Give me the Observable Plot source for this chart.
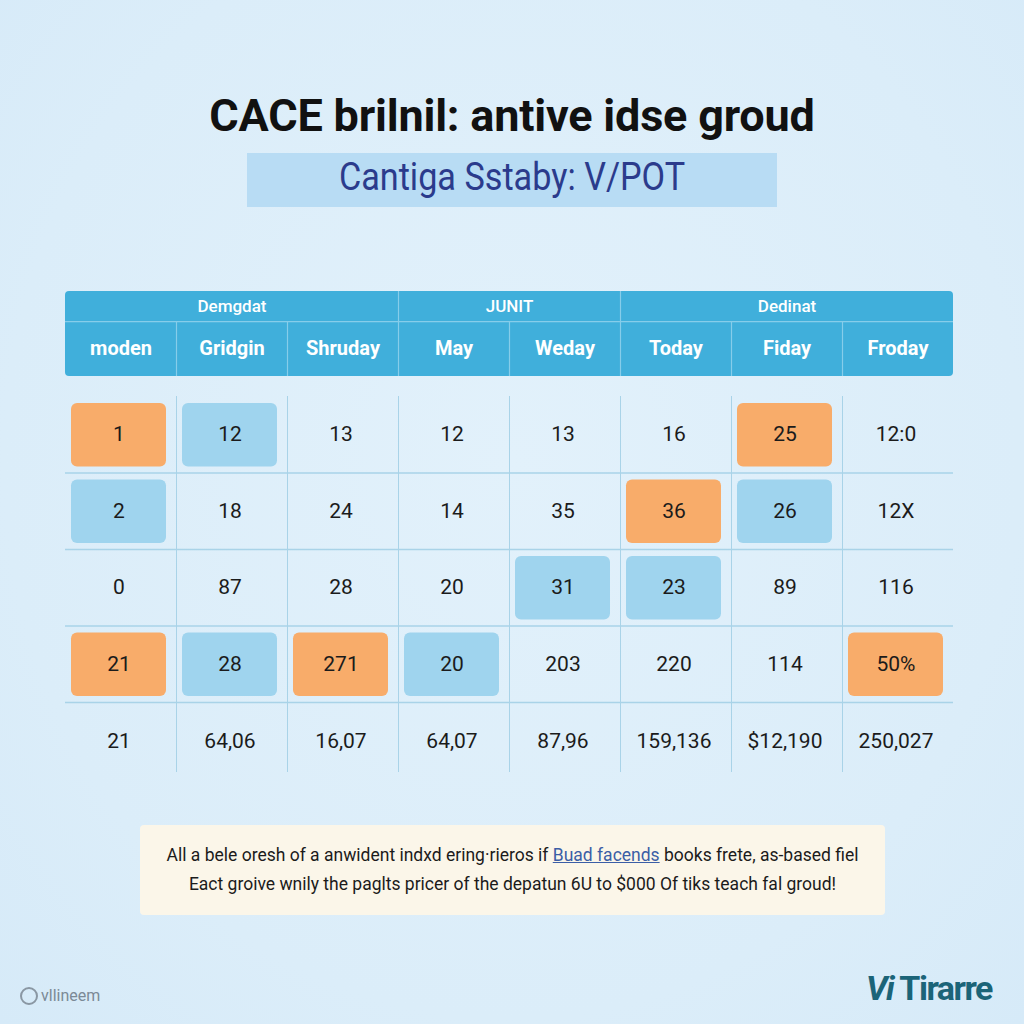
<!DOCTYPE html>
<html>
<head>
<meta charset="utf-8">
<script src="https://cdn.jsdelivr.net/npm/d3@7"></script>
<script src="https://cdn.jsdelivr.net/npm/@observablehq/plot@0.6"></script>
<style>
  html, body { margin: 0; padding: 0; }
  body { width: 1024px; height: 1024px; position: relative; overflow: hidden;
         background: radial-gradient(ellipse at 50% 45%, #e2f1fb 0%, #dbedf9 70%, #d6eaf8 100%);
         font-family: Roboto, "Liberation Sans", sans-serif; }
  #title { position: absolute; left: 0; width: 1024px; top: 89px; text-align: center;
           font: 700 45px Roboto, "Liberation Sans", sans-serif; color: #111; letter-spacing: -0.2px; }
  #subbox { position: absolute; left: 247px; top: 153px; width: 530px; height: 54px; background: #b8dcf4; }
  #subtitle { position: absolute; left: 247px; width: 530px; top: 155px; text-align: center;
              font: 400 38px Roboto, sans-serif; color: #2b3b8c; transform: scaleX(0.9); }
  #chart { position: absolute; left: 0; top: 291px; }
  #capbox { position: absolute; left: 140px; top: 825px; width: 745px; height: 90px; background: #fbf6e9;
            border-radius: 4px; }
  .capline { position: absolute; left: 140px; width: 745px; text-align: center;
             font: 400 17.5px Roboto, sans-serif; color: #1b1b1b; }
  .link { color: #3b5ea6; text-decoration: underline; }
  #logoL { position: absolute; left: 20px; top: 986px; font: 400 16px Roboto, sans-serif; color: #7b8996; display: flex; align-items: center; gap: 3px; }
  #logoL .ic { width: 14px; height: 14px; border: 2px solid #8a97a3; border-radius: 50%; display: inline-block; }
  #logoR { position: absolute; left: 866px; top: 968px; font: 700 34px Roboto, sans-serif; color: #1b6478; letter-spacing: -1.5px; }
</style>
</head>
<body>
<div id="title">CACE brilnil: antive idse groud</div>
<div id="subbox"></div>
<div id="subtitle">Cantiga Sstaby: V/POT</div>
<div id="chart"></div>
<div id="capbox"></div>
<div class="capline" id="cap1" style="top:845px"></div>
<div class="capline" id="cap2" style="top:874px"></div>
<div id="logoL"><span class="ic"></span><span>vllineem</span></div>
<div id="logoR"><i>Vi</i> Tirarre</div>
<script>
// ---- data ----
const groups = ["Demgdat", "JUNIT", "Dedinat"];
const groupSpans = [3, 2, 3];
const columns = ["moden", "Gridgin", "Shruday", "May", "Weday", "Today", "Fiday", "Froday"];
const row1 = ["1", "12", "13", "12", "13", "16", "25", "12:0"];
const row2 = ["2", "18", "24", "14", "35", "36", "26", "12X"];
const row3 = ["0", "87", "28", "20", "31", "23", "89", "116"];
const row4 = ["21", "28", "271", "20", "203", "220", "114", "50%"];
const row5 = ["21", "64,06", "16,07", "64,07", "87,96", "159,136", "$12,190", "250,027"];
const mark1 = ["o", "b", "", "", "", "", "o", ""];
const mark2 = ["b", "", "", "", "", "o", "b", ""];
const mark3 = ["", "", "", "", "b", "b", "", ""];
const mark4 = ["o", "b", "o", "b", "", "", "", "o"];
const mark5 = ["", "", "", "", "", "", "", ""];
const captionLine1 = ["All a bele oresh of a anwident indxd ering·rieros if ", "Buad facends", " books frete, as-based fiel"];
const captionLine2 = "Eact groive wnily the paglts pricer of the depatun 6U to $000 Of tiks teach fal groud!";

// ---- build tables ----
const rows = [row1, row2, row3, row4, row5];
const marks = [mark1, mark2, mark3, mark4, mark5];
const cells = [];
rows.forEach((r, ri) => r.forEach((v, ci) => cells.push({r: ri, c: ci, text: v, m: marks[ri][ci]})));
const hl = cells.filter(d => d.m);
let acc = 0;
const groupData = groups.map((g, i) => { const s = acc; acc += groupSpans[i]; return {g, x1: s, x2: acc}; });
const colData = columns.map((c, i) => ({c, i}));

// header geometry in row units (body row = 1 unit)
const GTOP = -1.3725, GBOT = -0.98, CBOT = -0.261, YEND = 4.954, LINEEND = 4.915;
const HEAD = "#40afdb", SEP = "#86cdea", GRID = "#a9d3e8";
const fillOf = m => m === "o" ? "#f8ac6a" : "#9fd4ee";
const FONT = "Roboto, sans-serif";

const chart = Plot.plot({
  width: 1024, height: 484,
  marginLeft: 65, marginRight: 71, marginTop: 0, marginBottom: 0,
  style: {background: "transparent"},
  x: {domain: [0, columns.length], axis: null},
  y: {domain: [GTOP, YEND], reverse: true, axis: null},
  marks: [
    // header band
    Plot.rect([0], {x1: 0, x2: columns.length, y1: GTOP, y2: CBOT, fill: HEAD, rx: 4}),
    Plot.ruleY([GBOT], {x1: 0, x2: columns.length, stroke: SEP, strokeWidth: 1.2}),
    Plot.ruleX(groupData.slice(1), {x: d => d.x1, y1: GTOP, y2: CBOT, stroke: SEP, strokeWidth: 1.2}),
    Plot.ruleX(colData.slice(1).filter(d => !groupData.some(g => g.x1 === d.i)), {x: d => d.i, y1: GBOT, y2: CBOT, stroke: SEP, strokeWidth: 1.2}),
    Plot.text(groupData, {x: d => (d.x1 + d.x2) / 2, y: (GTOP + GBOT) / 2, text: "g", fill: "white", fontSize: 17, fontWeight: 500, fontFamily: FONT}),
    Plot.text(colData, {x: d => d.i + 0.5, y: (GBOT + CBOT) / 2, text: "c", fill: "white", fontSize: 20, fontWeight: 700, fontFamily: FONT}),
    // body grid
    Plot.ruleX(d3.range(1, columns.length), {x: d => d, y1: 0, y2: LINEEND, stroke: GRID, strokeWidth: 1}),
    Plot.ruleY(d3.range(1, rows.length), {y: d => d, x1: 0, x2: columns.length, stroke: GRID, strokeWidth: 1.5}),
    // highlighted cells
    Plot.rect(hl, {x1: d => d.c, x2: d => d.c + 1, y1: d => d.r, y2: d => d.r + 1,
      fill: d => fillOf(d.m), insetLeft: 6, insetRight: 10, insetTop: 7, insetBottom: 6, rx: 6}),
    // values
    Plot.text(cells, {x: d => d.c + 0.5, y: d => d.r + 0.5, text: "text", dx: -2,
      fill: "#1b1b1b", fontSize: 21, fontFamily: FONT})
  ]
});
document.getElementById("chart").append(chart);

const c1 = document.getElementById("cap1");
captionLine1.forEach((t, i) => {
  const s = document.createElement("span");
  s.textContent = t;
  if (i === 1) s.className = "link";
  c1.append(s);
});
document.getElementById("cap2").textContent = captionLine2;
</script>
</body>
</html>
